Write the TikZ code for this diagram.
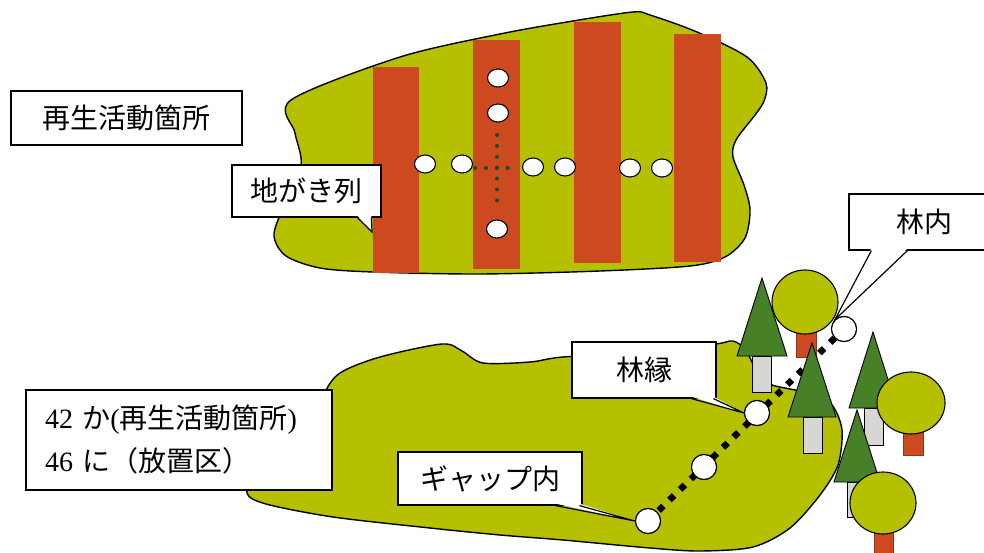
\documentclass[tikz,border=0pt]{standalone}
\usepackage{fontspec}
\setmainfont{Liberation Serif}
\newfontfamily\jp{Noto Sans CJK JP}
\usetikzlibrary{calc,shapes.geometric}

\definecolor{lime}{RGB}{181,193,0}
\definecolor{stripered}{RGB}{205,74,32}
\definecolor{pine}{RGB}{72,128,40}
\definecolor{trunkgray}{RGB}{214,214,210}
\definecolor{dotgreen}{RGB}{25,75,30}

\tikzset{
  field/.style={fill=lime, draw=black, line width=1.4pt},
  band/.style={fill=stripered},
  hole/.style={ellipse, fill=white, draw=black, line width=1.1pt, inner sep=0pt,
    minimum width=21pt, minimum height=18pt},
  station/.style={circle, fill=white, draw=black, line width=1.1pt, inner sep=0pt,
    minimum size=25pt},
  label/.style={draw=black, fill=white, line width=1.2pt, inner sep=0pt,
    font=\jp\fontsize{28}{32}\selectfont},
  tip/.style={line width=1.2pt},
  griddots/.style={dotgreen, line width=4pt, line cap=round, dash pattern=on 0pt off 10.9pt},
  transect/.style={black, line width=6.5pt, dash pattern=on 6.5pt off 8.5pt},
  conifer/.style={fill=pine, draw=black, line width=0.9pt},
  pale/.style={fill=trunkgray, draw=black, line width=0.9pt},
  crown/.style={fill=lime, draw=black, line width=1.1pt},
  bark/.style={fill=stripered, draw=stripered!70!black, line width=0.5pt},
}

\begin{document}
\begin{tikzpicture}[x=1pt, y=-1pt]
\useasboundingbox (0,0) rectangle (984,553);
\fill[white] (0,0) rectangle (984,553);

% ---------- upper plot ----------
\draw[field] plot[smooth cycle, tension=0.5] coordinates {
  (291,100) (400,57) (500,34) (573,21) (633,12) (650,15) (697,32) (747,57)
  (766,83) (764,101) (755,115) (736,140) (733,157) (744,185) (750,210)
  (745,238) (725,257) (690,266) (600,271) (480,274) (373,272) (320,268)
  (286,256) (274,236) (282,210) (301,166) (295,133)};

\fill[band] (373,67) rectangle (419,273);
\fill[band] (473,40) rectangle (520,269);
\fill[band] (574,22) rectangle (621,263);
\fill[band] (674,34) rectangle (721,262);

% survey cross
\coordinate (vtop) at (497,135);
\coordinate (vbot) at (497,202);
\coordinate (hl) at (475,168);
\coordinate (hr) at (508,168);
\draw[griddots] (vtop) -- (vbot);
\draw[griddots] (hl) -- (hr);

\node[hole] (t1) at (425,164) {};
\node[hole] (t2) at (462,164) {};
\node[hole] (t3) at (533,167) {};
\node[hole] (t4) at (565,167) {};
\node[hole] (t5) at (630,168) {};
\node[hole] (t6) at (662,168) {};
\node[hole] (v1) at (498,78) {};
\node[hole] (v2) at (498,113) {};
\node[hole] (v3) at (497,229) {};

% ---------- lower plot ----------
\draw[field] plot[smooth cycle, tension=0.5] coordinates {
  (247,493) (266,504) (333,517) (430,528) (500,535) (563,540) (650,548)
  (700,551) (753,547) (790,528) (820,495) (838,465) (842,430) (832,405)
  (812,394) (790,389) (772,385) (760,377) (752,362) (745,349) (733,341)
  (716,344) (650,352) (563,357) (530,362) (483,363) (462,351) (442,344)
  (380,357) (340,373) (323,395) (300,440) (258,472)};

\node[station] (g1) at (648,521) {};
\node[station] (g2) at (704,467) {};
\node[station] (g3) at (757,413) {};
\node[station] (g4) at (844,329) {};
\draw[transect] (g1.center) -- (g4.center);

% trees
\fill[bark] (796,330) rectangle (816,357);
\draw[crown] (805,302) ellipse [x radius=33, y radius=32];
\draw[pale] (752,356) rectangle (771,392);
\draw[conifer] (762,278) -- (737,356) -- (787,356) -- cycle;
\draw[pale] (803,417) rectangle (822,453);
\draw[conifer] (812,343) -- (788,417) -- (836,417) -- cycle;

\draw[pale] (864,408) rectangle (883,445);
\draw[conifer] (873,332) -- (849,408) -- (897,408) -- cycle;
\fill[bark] (903,428) rectangle (923,455);
\draw[crown] (911,403) ellipse [x radius=34, y radius=31];
\draw[pale] (847,482) rectangle (866,517);
\draw[conifer] (857,410) -- (834,482) -- (880,482) -- cycle;
\fill[bark] (874,528) rectangle (893,560);
\draw[crown] (883,503) ellipse [x radius=33, y radius=31];

% stations on top of the transect line
\node[station] at (g1) {};
\node[station] at (g2) {};
\node[station] at (g3) {};
\node[station] at (g4) {};

% ---------- labels ----------
\node[label, minimum width=231pt, minimum height=54pt] (site) at (126.5,118) {再生活動箇所};

\node[label, minimum width=149pt, minimum height=52pt] (rows) at (306.5,191) {地がき列};
\coordinate (rowstip) at (372,232);
\fill[white] ($(rows.south west)+(126,-2)$) -- (rowstip) -- ($(rows.south west)+(140,-2)$) -- cycle;
\draw[tip] ($(rows.south west)+(126,0)$) -- (rowstip) -- ($(rows.south west)+(140,0)$);

\node[label, minimum width=150pt, minimum height=56pt] (inner) at (924,222) {林内};
\fill[white] ($(inner.south west)+(23,-2)$) -- (g4.north west) -- ($(inner.south west)+(59,-2)$) -- cycle;
\draw[tip] ($(inner.south west)+(23,0)$) -- (g4.north west) -- ($(inner.south west)+(59,0)$);

\node[label, minimum width=144pt, minimum height=56pt] (edge) at (644,370) {林縁};
\fill[white] ($(edge.south west)+(120,-2)$) -- (g3.west) -- ($(edge.south west)+(142,-2)$) -- cycle;
\draw[tip] ($(edge.south west)+(120,0)$) -- (g3.west) -- ($(edge.south west)+(142,0)$);

\node[label, minimum width=184pt, minimum height=53pt] (gap) at (490,478.5) {ギャップ内};
\fill[white] ($(gap.south west)+(158,-2)$) -- (g1.west) -- ($(gap.south west)+(182,-2)$) -- cycle;
\draw[tip] ($(gap.south west)+(158,0)$) -- (g1.west) -- ($(gap.south west)+(182,0)$);

\node[label, minimum width=306pt, minimum height=100pt, text width=268pt, align=left,
  inner xsep=19pt, font=\fontsize{28}{43}\selectfont] (plots) at (179,440)
  {42 {\jp か}({\jp 再生活動箇所})\\46 {\jp に（放置区）}};
\end{tikzpicture}
\end{document}
